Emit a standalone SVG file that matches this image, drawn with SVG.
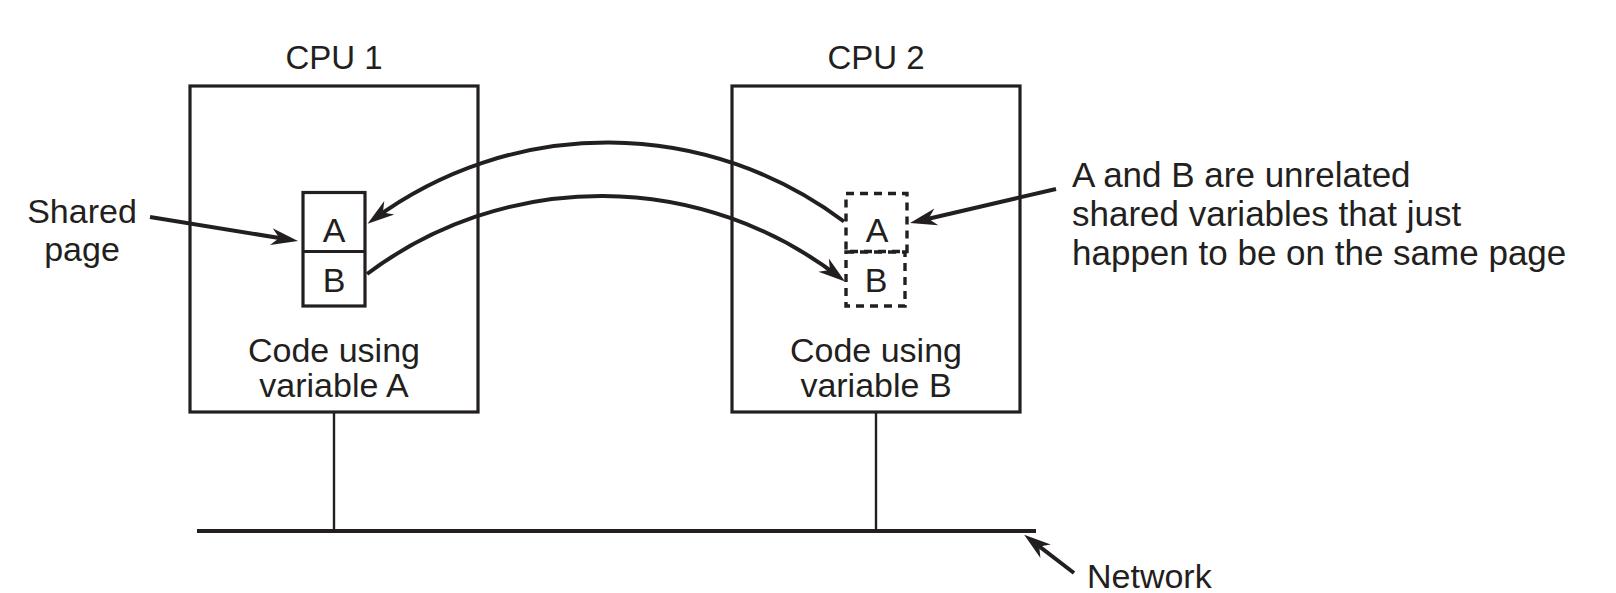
<svg xmlns="http://www.w3.org/2000/svg" width="1616" height="593" viewBox="0 0 1616 593">
<style>
text{font-family:"Liberation Sans",Arial,sans-serif;font-size:34px;fill:#231f20}
.c{text-anchor:middle}
.note{font-size:35px}
.box{fill:none;stroke:#231f20;stroke-width:3.2}
.dash{fill:none;stroke:#231f20;stroke-width:3.4;stroke-dasharray:8 6}
.wire{fill:none;stroke:#231f20;stroke-width:2.4}
.net{fill:none;stroke:#231f20;stroke-width:4}
.arr{fill:none;stroke:#231f20;stroke-width:4;marker-end:url(#ah)}
</style>
<defs>
<marker id="ah" markerUnits="userSpaceOnUse" viewBox="-22 -10 32 20" refX="0" refY="0" markerWidth="32" markerHeight="20" orient="auto">
<path d="M8,0 L-19,-8.5 L-11,0 L-19,8.5 Z" fill="#231f20"/>
</marker>
</defs>
<rect width="1616" height="593" fill="#fff"/>
<g id="cpu1">
<rect class="box" x="190" y="86" width="288" height="326"/>
<text class="c" x="334" y="69" style="font-size:33px">CPU 1</text>
<text class="c" x="334" y="362">Code using</text>
<text class="c" x="334" y="397">variable A</text>
</g>
<g id="page1">
<rect class="box" x="303" y="192.5" width="62" height="113.5"/>
<line class="box" x1="303" y1="251.5" x2="365" y2="251.5"/>
<text class="c" x="334" y="242">A</text>
<text class="c" x="334" y="292">B</text>
</g>
<g id="cpu2">
<rect class="box" x="732" y="86" width="288" height="326"/>
<text class="c" x="876" y="69" style="font-size:33px">CPU 2</text>
<text class="c" x="876" y="362">Code using</text>
<text class="c" x="876" y="397">variable B</text>
</g>
<g id="page2">
<rect class="dash" x="846" y="193.5" width="61" height="58"/>
<rect class="dash" x="846" y="252" width="59" height="54"/>
<text class="c" x="877" y="242">A</text>
<text class="c" x="876" y="292">B</text>
</g>
<g id="network">
<line class="net" x1="197" y1="531" x2="1036" y2="531"/>
<text x="1087" y="588">Network</text>
</g>
<g id="label-shared">
<text class="c" x="82" y="223">Shared</text>
<text class="c" x="82" y="261">page</text>
</g>
<g id="label-unrelated">
<text class="note" x="1072" y="187">A and B are unrelated</text>
<text class="note" x="1072" y="226">shared variables that just</text>
<text class="note" x="1072" y="265">happen to be on the same page</text>
</g>
<g id="connectors">
<line class="wire" x1="334" y1="412" x2="334" y2="531"/>
<line class="wire" x1="876" y1="412" x2="876" y2="531"/>
<path class="arr" d="M844,221.5 A394,394 0 0 0 374,219"/>
<path class="arr" d="M367,274 A390,390 0 0 1 838.7,276.7"/>
<path class="arr" d="M150,217 L290.1,239.7"/>
<path class="arr" d="M1056,189 L917.8,221.2"/>
<path class="arr" d="M1074,573 L1030.5,539.7"/>
</g>
</svg>
